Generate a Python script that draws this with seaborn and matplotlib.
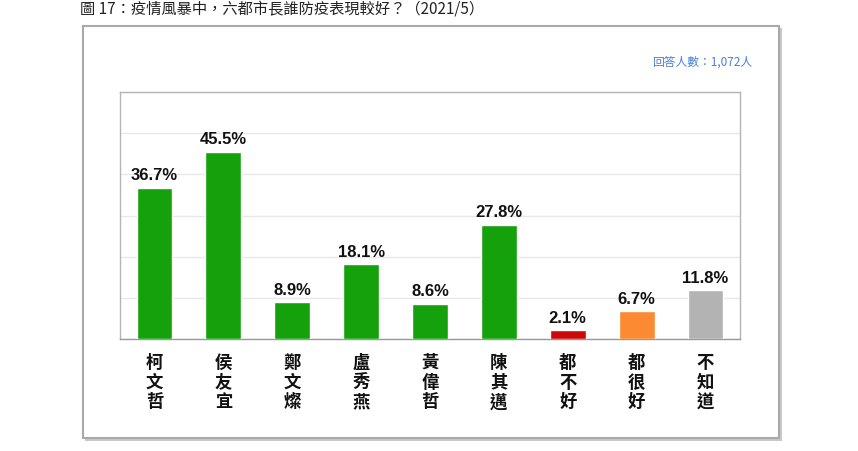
import matplotlib
matplotlib.use("Agg")
import matplotlib.pyplot as plt
import seaborn as sns
import pandas as pd
from matplotlib.patches import Rectangle

categories = ["柯文哲", "侯友宜", "鄭文燦", "盧秀燕", "黃偉哲", "陳其邁", "都不好", "都很好", "不知道"]
values = [36.7, 45.5, 8.9, 18.1, 8.6, 27.8, 2.1, 6.7, 11.8]
colors = ["#14a10c"] * 6 + ["#cc0a0a", "#fb8a32", "#b3b3b3"]
title = "圖 17：疫情風暴中，六都市長誰防疫表現較好？（2021/5）"
note = "回答人數：1,072人"

sns.set_theme(style="white")
plt.rcParams["font.family"] = ["Noto Sans CJK TC", "DejaVu Sans"]

fig = plt.figure(figsize=(8.58, 4.52), dpi=100)

# outer frame with shadow
fig.patches.append(Rectangle((85/858, 1-442/452), 697/858, 413/452, transform=fig.transFigure,
                             facecolor="#c8c8c8", edgecolor="none", zorder=0))
fig.patches.append(Rectangle((83/858, 1-439/452), 696/858, 412/452, transform=fig.transFigure,
                             facecolor="white", edgecolor="#a9a9a9", linewidth=1.5, zorder=1))

ax = fig.add_axes([120/858, 1-340/452, 620/858, 247/452])
ax.set_zorder(5)
ax.set_facecolor("white")
df = pd.DataFrame({"cat": categories, "val": values})
sns.barplot(data=df, x="cat", y="val", hue="cat", palette=colors, legend=False,
            width=0.52, saturation=1, ax=ax, zorder=3)

ax.set_ylim(0, 60)
ax.set_xlim(-0.5, len(categories) - 0.5)
ax.set_yticks(range(0, 61, 10))
ax.set_yticklabels([])
ax.tick_params(axis="y", length=0)
ax.yaxis.grid(True, color="#e8e8e8", linewidth=1)
ax.set_axisbelow(True)
ax.set_xlabel("")
ax.set_ylabel("")
ax.set_xticks(range(len(categories)))
ax.set_xticklabels(["\n".join(c) for c in categories], fontsize=12.5, linespacing=1.12,
                   color="#111111", va="top", fontweight="semibold")
ax.tick_params(axis="x", which="major", length=0, pad=10)
ax.set_xticks([i + 0.5 for i in range(len(categories) - 1)], minor=True)
ax.tick_params(axis="x", which="minor", direction="in", length=5, color="#999999", width=0.8)
for s in ax.spines.values():
    s.set_color("#b5b5b5")
    s.set_linewidth(1)
ax.spines["bottom"].set_color("#999999")

for c in ax.containers:
    ax.bar_label(c, labels=[f"{v:.1f}%" for v in c.datavalues], padding=4,
                 fontsize=12, fontweight="bold", color="#111111", family="Liberation Sans")

fig.text(752/858, 1-62/452, note, ha="right", va="center", fontsize=8.5, color="#4a7fd6",
         fontweight="medium", zorder=6)
fig.text(80/858, 1-1/452, title, ha="left", va="top", fontsize=11, color="#222222")

fig.savefig("out.png", dpi=100)
